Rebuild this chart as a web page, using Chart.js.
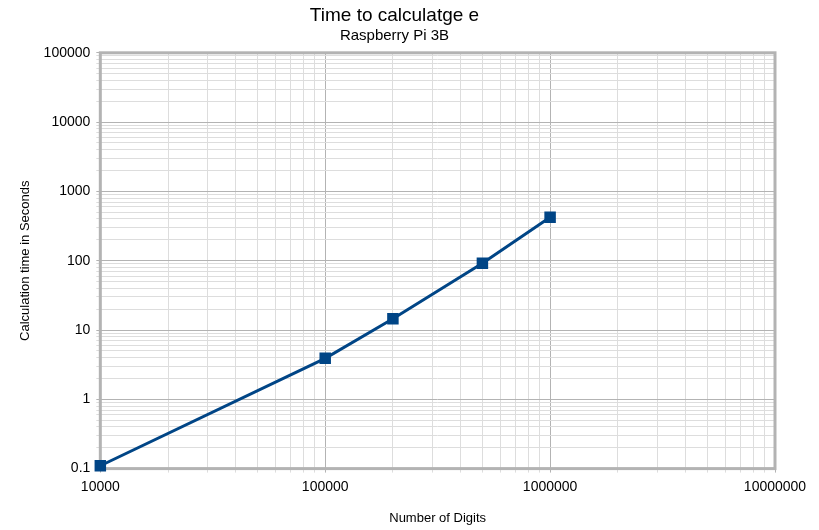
<!DOCTYPE html>
<html><head><meta charset="utf-8">
<script src="https://cdn.jsdelivr.net/npm/chart.js@4"></script>
<style>html,body{margin:0;padding:0;background:#fff}#w{width:819px;height:530px}</style>
</head><body><div id="w"><canvas id="c"></canvas></div>
<script>
const digits = [10000, 100000, 200000, 500000, 1000000];
const seconds = [0.11, 3.9, 14.5, 92, 425];
const xTicks = [10000, 100000, 1000000, 10000000];
const yTicks = [0.1, 1, 10, 100, 1000, 10000, 100000];

function isPow10(v){const l=Math.log10(v);return Math.abs(l-Math.round(l))<1e-6;}
const frame = {id:'frame', beforeDatasetsDraw(ch){const a=ch.chartArea,c=ch.ctx;c.save();c.strokeStyle='#b3b3b3';c.lineWidth=3;c.strokeRect(a.left,a.top,a.right-a.left,a.bottom-a.top);c.restore();}};
Chart.defaults.font.family='"Liberation Sans", Arial, sans-serif';
Chart.defaults.color='#000';
new Chart(document.getElementById('c'),{
 type:'line',
 data:{datasets:[{data:digits.map((d,i)=>({x:d,y:seconds[i]})),clip:false,borderColor:'#004586',backgroundColor:'#004586',borderWidth:3,pointStyle:'rect',pointRadius:6,pointHoverRadius:6,tension:0}]},
 options:{responsive:true,maintainAspectRatio:false,animation:false,
  layout:{padding:{right:44,left:14,top:0,bottom:0}},
  plugins:{legend:{display:false},tooltip:{enabled:false},
   title:{display:true,text:'Time to calculatge e',font:{size:19,weight:'normal'},padding:{top:4,bottom:0}},
   subtitle:{display:true,text:'Raspberry Pi 3B',font:{size:15},padding:{top:0,bottom:8}}},
  scales:{
   x:{type:'logarithmic',min:10000,max:10000000,
    title:{display:true,text:'Number of Digits',font:{size:13},padding:{top:9,bottom:4}},
    afterBuildTicks(ax){const t=[];for(let e=4;e<7;e++)for(let m=1;m<10;m++)t.push({value:m*Math.pow(10,e)});t.push({value:1e7});ax.ticks=t;},
    ticks:{autoSkip:false,maxRotation:0,font:{size:14},padding:6,callback:v=>isPow10(v)?String(Math.round(v)):''},
    grid:{color:c=>c.tick&&isPow10(c.tick.value)?'#b3b3b3':'#dddddd',lineWidth:1,drawTicks:true,tickLength:4},border:{display:false}},
   y:{type:'logarithmic',min:0.1,max:100000,
    title:{display:true,text:'Calculation time in Seconds',font:{size:13}},
    afterBuildTicks(ax){const t=[];for(let e=-1;e<5;e++)for(let m=1;m<10;m++)t.push({value:+(m*Math.pow(10,e)).toPrecision(6)});t.push({value:100000});ax.ticks=t;},
    ticks:{autoSkip:false,font:{size:14},padding:6,callback:v=>isPow10(v)?(v<1?'0.1':String(Math.round(v))):''},
    grid:{color:c=>c.tick&&isPow10(c.tick.value)?'#b3b3b3':'#dddddd',lineWidth:1,tickLength:4},border:{display:false}}
  }},
 plugins:[frame]
});
</script></body></html>
